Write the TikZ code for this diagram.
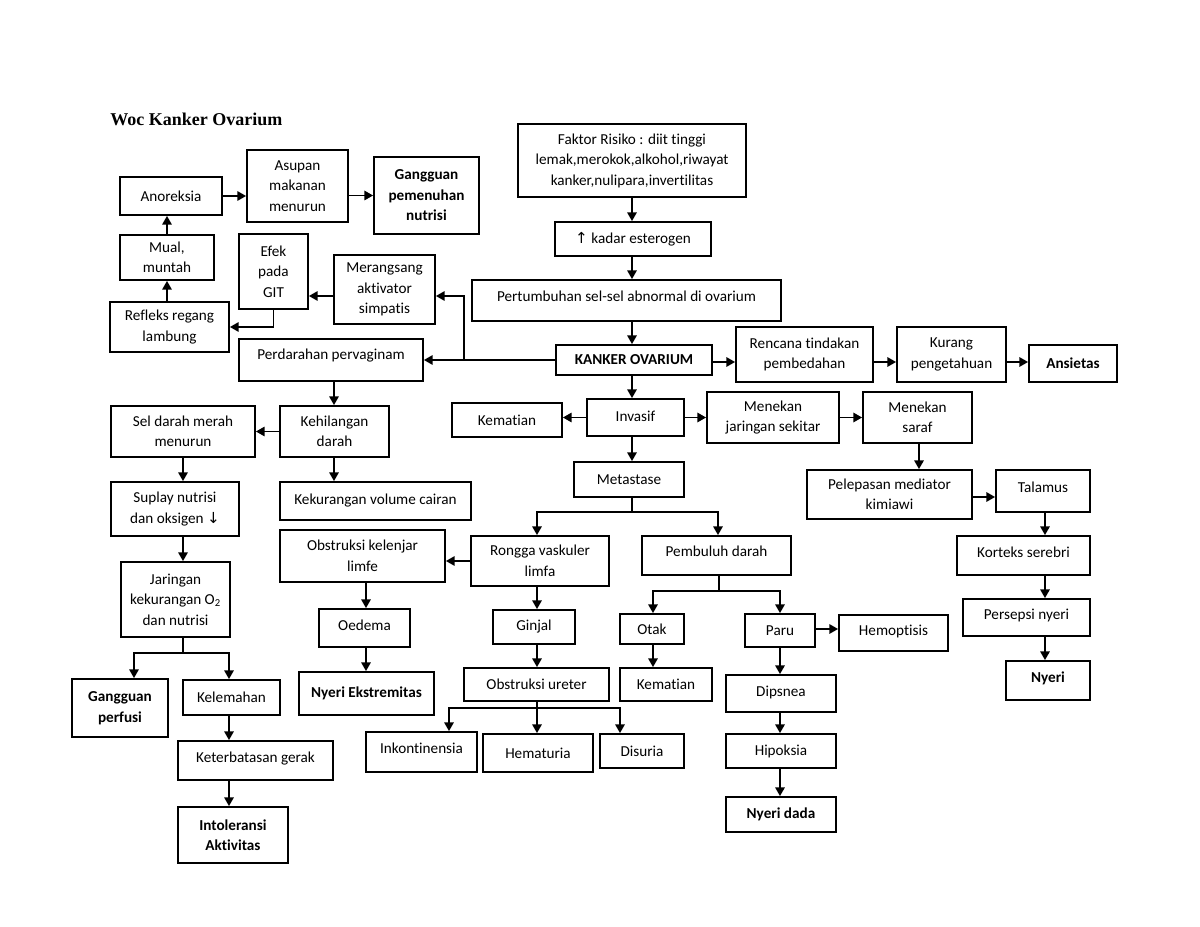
\documentclass[tikz,border=0pt]{standalone}
\usepackage{fontspec}
\setmainfont{Carlito}[Ligatures=NoCommon]
\newfontfamily\titlefont{Liberation Serif}
\newfontfamily\symfont{DejaVu Sans}
\usetikzlibrary{arrows.meta}
\tikzset{
  box/.style={draw, line width=1.35pt, inner sep=0pt, align=center,
    font=\fontsize{11.4}{15.4}\selectfont},
  bold/.style={font=\fontsize{11.4}{15.4}\selectfont\bfseries},
  lift/.style={text depth=#1},
  arr/.style={draw, line width=1.35pt, -{Triangle[length=6.5pt,width=7pt]}},
  ln/.style={draw, line width=1.35pt}
}
\newcommand\bx[7][]{%
  \pgfmathsetmacro\bxw{(#5-#3)*0.75}%
  \pgfmathsetmacro\bxh{(#6-#4)*0.75}%
  \pgfmathsetmacro\bxcx{(#3+#5)/2}%
  \pgfmathsetmacro\bxcy{(#4+#6)/2}%
  \node[box,#1,minimum width=\bxw pt,minimum height=\bxh pt] (#2) at (\bxcx,\bxcy) {#7};}
\begin{document}
\begin{tikzpicture}[x=0.75pt,y=-0.75pt]
\fill[white] (0,0) rectangle (1200,927);
\useasboundingbox (0,0) rectangle (1200,927);
\node[anchor=base west, inner sep=0pt] (title) at (110,126)
  {\titlefont\bfseries\fontsize{13.5}{16}\selectfont Woc Kanker Ovarium};

% boxes
\bx{anor}{120}{177}{222}{215}{Anoreksia}
\bx{asup}{247}{150}{348}{222}{Asupan\\makanan\\menurun}
\bx[bold]{gang}{374}{157}{479}{234}{Gangguan\\pemenuhan\\nutrisi}
\bx{mual}{120}{235}{214}{280}{Mual,\\muntah}
\bx{efek}{239}{234}{308}{309}{Efek\\pada\\GIT}
\bx{mer}{334}{255}{435}{324}{Merangsang\\aktivator\\simpatis}
\bx{ref}{110}{302}{229}{352}{Refleks regang\\lambung}
\bx[lift=8pt]{perd}{239}{339}{423}{381}{Perdarahan pervaginam}
\bx{fak}{518}{124}{746}{197}{Faktor Risiko : diit tinggi\\lemak,merokok,alkohol,riwayat\\kanker,nulipara,invertilitas}
\bx{kad}{555}{222}{711}{256}{{\symfont ↑} kadar esterogen}
\bx[lift=6.5pt]{pert}{472}{280}{781}{321}{Pertumbuhan sel-sel abnormal di ovarium}
\bx[bold]{kank}{556}{345}{712}{375}{KANKER OVARIUM}
\bx{ren}{736}{327}{873}{382}{Rencana tindakan\\pembedahan}
\bx{kur}{897}{327}{1006}{382}{Kurang\\pengetahuan}
\bx[bold]{ans}{1029}{345}{1117}{382}{Ansietas}
\bx{kem1}{452}{403}{562}{437}{Kematian}
\bx[lift=2.5pt]{inv}{587}{399}{684}{436}{Invasif}
\bx{mjar}{707}{392}{839}{443}{Menekan\\jaringan sekitar}
\bx{msar}{863}{392}{972}{443}{Menekan\\saraf}
\bx{meta}{574}{462}{684}{497}{Metastase}
\bx{pel}{807}{470}{972}{519}{Pelepasan mediator\\kimiawi}
\bx[lift=5pt]{tal}{996}{470}{1090}{512}{Talamus}
\bx{sel}{111}{406}{255}{457}{Sel darah merah\\menurun}
\bx{kehil}{280}{406}{389}{457}{Kehilangan\\darah}
\bx{kekur}{280}{482}{471}{520}{Kekurangan volume cairan}
\bx{sup}{111}{482}{239}{536}{Suplay nutrisi\\dan oksigen {\symfont ↓}}
\bx[lift=5pt]{kor}{957}{536}{1090}{575}{Korteks serebri}
\bx{obk}{280}{530}{445}{582}{Obstruksi kelenjar\\limfe}
\bx{ron}{471}{536}{609}{586}{Rongga vaskuler\\limfa}
\bx[lift=6pt]{pem}{642}{536}{791}{575}{Pembuluh darah}
\bx{jar}{121}{562}{230}{637}{Jaringan\\kekurangan O\textsubscript{2}\\dan nutrisi}
\bx[lift=5pt]{pers}{963}{599}{1090}{636}{Persepsi nyeri}
\bx[lift=4pt]{oed}{319}{609}{410}{647}{Oedema}
\bx{gin}{493}{610}{575}{644}{Ginjal}
\bx{otak}{620}{614}{684}{644}{Otak}
\bx{paru}{745}{614}{815}{647}{Paru}
\bx[lift=4pt]{hem}{839}{615}{948}{651}{Hemoptisis}
\bx[bold,lift=5pt]{nyeri}{1006}{661}{1090}{700}{Nyeri}
\bx[bold]{nyek}{299}{672}{434}{715}{Nyeri Ekstremitas}
\bx{ure}{464}{668}{609}{701}{Obstruksi ureter}
\bx{kem2}{620}{668}{712}{701}{Kematian}
\bx[bold]{gper}{72}{679}{168}{737}{Gangguan\\perfusi}
\bx{kel}{183}{680}{280}{715}{Kelemahan}
\bx[lift=4pt]{dip}{726}{675}{836}{712}{Dipsnea}
\bx[lift=5.5pt]{inko}{366}{732}{477}{772}{Inkontinensia}
\bx{hema}{483}{734}{593}{772}{Hematuria}
\bx{dis}{600}{734}{684}{768}{Disuria}
\bx[lift=5pt]{ket}{178}{741}{333}{780}{Keterbatasan gerak}
\bx{hip}{726}{734}{836}{768}{Hipoksia}
\bx[bold]{intol}{178}{807}{288}{863}{Intoleransi\\Aktivitas}
\bx[bold]{ndada}{726}{797}{836}{832}{Nyeri dada}

% helper coordinates
\coordinate (ax) at (632,0);
\coordinate (j1) at (464,361);
\coordinate (j2) at (464,296);
\coordinate (kx) at (334,0);
\coordinate (lx) at (183,0);
\coordinate (j0) at (183,653);
\coordinate (ja) at (134,653);
\coordinate (jb) at (229,653);
\coordinate (kx2) at (229,0);
\coordinate (sx) at (919,0);
\coordinate (py) at (0,497);
\coordinate (tx) at (1045,0);
\coordinate (m1) at (632,512);
\coordinate (m2) at (537,512);
\coordinate (m3) at (718,512);
\coordinate (rx) at (537,0);
\coordinate (ox) at (366,0);
\coordinate (u0) at (537,708);
\coordinate (u1) at (449,708);
\coordinate (u2) at (620,708);
\coordinate (p0) at (719,591);
\coordinate (pa) at (653,591);
\coordinate (pb) at (780,591);
\coordinate (hy) at (0,629);
\coordinate (ky) at (0,362);

% connectors: main axis
\draw[arr] (ax |- fak.south) -- (ax |- kad.north);
\draw[arr] (ax |- kad.south) -- (ax |- pert.north);
\draw[arr] (ax |- pert.south) -- (ax |- kank.north);
\draw[arr] (ax |- kank.south) -- (ax |- inv.north);
\draw[arr] (ax |- inv.south) -- (ax |- meta.north);
\draw[arr] (kank.east |- ky) -- (ren.west |- ky);
\draw[arr] (ren.east |- ky) -- (kur.west |- ky);
\draw[arr] (kur.east |- ky) -- (ans.west |- ky);
% left of KANKER
\draw[arr] (kank.west) -- (kank.west -| perd.east);
\draw[arr] (j1) -- (j2) -- (mer.east |- j2);
\draw[arr] (mer.west |- j2) -- (efek.east |- j2);
\draw[arr] (efek.south) |- (ref.east);
\draw[arr] (mual.south |- ref.north) -- (mual.south);
\draw[arr] (mual.north) -- (mual.north |- anor.south);
\draw[arr] (anor.east) -- (anor.east -| asup.west);
\draw[arr] (asup.east |- gang.west) -- (gang.west);
% bleeding chain
\draw[arr] (kx |- perd.south) -- (kx |- kehil.north);
\draw[arr] (kx |- kehil.south) -- (kx |- kekur.north);
\draw[arr] (kehil.west) -- (kehil.west -| sel.east);
\draw[arr] (lx |- sel.south) -- (lx |- sup.north);
\draw[arr] (lx |- sup.south) -- (lx |- jar.north);
\draw[arr] (lx |- jar.south) -- (j0) -- (ja) -- (ja |- gper.north);
\draw[arr] (j0) -- (jb) -- (jb |- kel.north);
\draw[arr] (kx2 |- kel.south) -- (kx2 |- ket.north);
\draw[arr] (kx2 |- ket.south) -- (kx2 |- intol.north);
% invasion
\draw[arr] (inv.west) -- (inv.west -| kem1.east);
\draw[arr] (inv.east) -- (inv.east -| mjar.west);
\draw[arr] (mjar.east) -- (mjar.east -| msar.west);
\draw[arr] (sx |- msar.south) -- (sx |- pel.north);
\draw[arr] (pel.east |- py) -- (tal.west |- py);
\draw[arr] (tx |- tal.south) -- (tx |- kor.north);
\draw[arr] (tx |- kor.south) -- (tx |- pers.north);
\draw[arr] (tx |- pers.south) -- (tx |- nyeri.north);
% metastasis
\draw[ln] (ax |- meta.south) -- (m1);
\draw[arr] (m1) -- (m2) -- (m2 |- ron.north);
\draw[arr] (m1) -- (m3) -- (m3 |- pem.north);
\draw[arr] (ron.west) -- (ron.west -| obk.east);
\draw[arr] (ox |- obk.south) -- (ox |- oed.north);
\draw[arr] (ox |- oed.south) -- (ox |- nyek.north);
\draw[arr] (rx |- ron.south) -- (rx |- gin.north);
\draw[arr] (rx |- gin.south) -- (rx |- ure.north);
\draw[arr] (rx |- ure.south) -- (u0) -- (u0 |- hema.north);
\draw[arr] (u0) -- (u1) -- (u1 |- inko.north);
\draw[arr] (u0) -- (u2) -- (u2 |- dis.north);
\draw[ln] (p0 |- pem.south) -- (p0);
\draw[arr] (p0) -- (pa) -- (pa |- otak.north);
\draw[arr] (p0) -- (pb) -- (pb |- paru.north);
\draw[arr] (pa |- otak.south) -- (pa |- kem2.north);
\draw[arr] (paru.east |- hy) -- (hem.west |- hy);
\draw[arr] (pb |- paru.south) -- (pb |- dip.north);
\draw[arr] (pb |- dip.south) -- (pb |- hip.north);
\draw[arr] (pb |- hip.south) -- (pb |- ndada.north);
\end{tikzpicture}
\end{document}
